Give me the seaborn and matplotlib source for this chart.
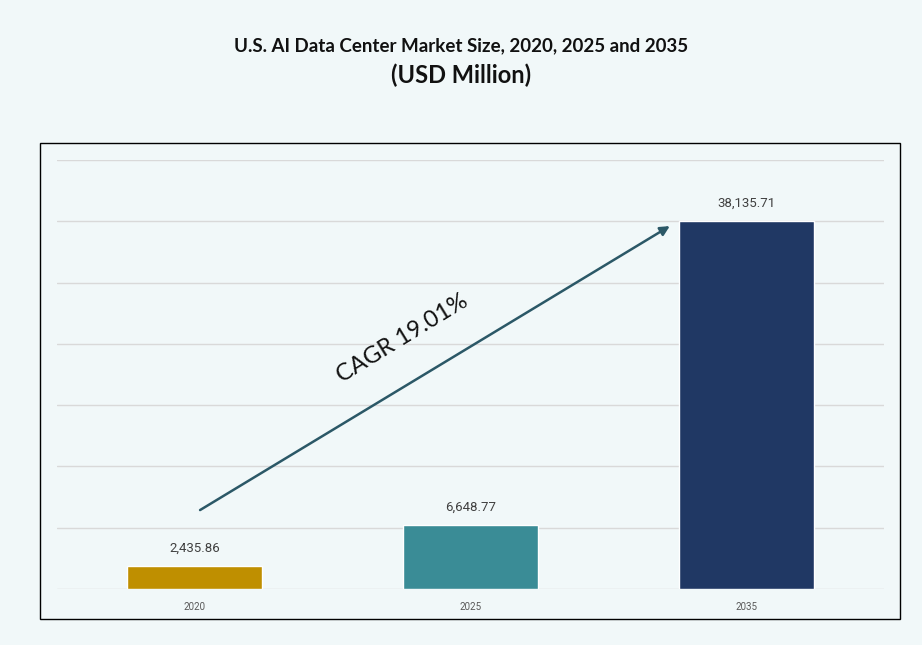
import matplotlib
matplotlib.use("Agg")
import matplotlib.pyplot as plt
import seaborn as sns
import pandas as pd
from matplotlib.patches import Rectangle

years = ["2020", "2025", "2035"]
values = [2435.86, 6648.77, 38135.71]
labels = ["2,435.86", "6,648.77", "38,135.71"]
colors = ["#BF8F00", "#3A8C96", "#203864"]
title_line1 = "U.S. AI Data Center Market Size, 2020, 2025 and 2035"
title_line2 = "(USD Million)"
cagr_text = "CAGR 19.01%"

BG = "#F1F8F9"
sns.set_theme(style="white")
plt.rcParams["font.family"] = ["Lato", "DejaVu Sans"]

W, H = 922, 645
fig = plt.figure(figsize=(W / 100, H / 100), dpi=100, facecolor=BG)

# outer frame
fig.patches.append(Rectangle((40 / W, 1 - 619 / H), 860 / W, 476 / H,
                             transform=fig.transFigure, fill=False,
                             edgecolor="black", linewidth=1.0, zorder=0))

ax = fig.add_axes([57 / W, 1 - 589 / H, 827 / W, 429 / H])
ax.set_facecolor(BG)

df = pd.DataFrame({"year": years, "value": values})
sns.barplot(data=df, x="year", y="value", hue="year", palette=colors,
            width=0.49, legend=False, ax=ax, saturation=1)

step = 6356
ax.set_ylim(0, 7 * step)
ax.set_yticks([i * step for i in range(8)])
ax.set_yticklabels([])
ax.set_xlim(-0.5, 2.5)
ax.grid(axis="y", color="#D9D9D9", linewidth=1)
ax.set_axisbelow(True)
for s in ax.spines.values():
    s.set_visible(False)
ax.tick_params(axis="y", length=0)
ax.tick_params(axis="x", length=0, pad=9, labelsize=7, labelcolor="#595959")
for t in ax.get_xticklabels():
    t.set_family(["Roboto", "DejaVu Sans"])
ax.set_xlabel("")
ax.set_ylabel("")

for i, (v, lab) in enumerate(zip(values, labels)):
    ax.annotate(lab, (i, v), xytext=(0, 8), textcoords="offset points",
                ha="center", va="bottom", fontsize=9.5, color="#404040",
                family=["Roboto", "DejaVu Sans"])

# CAGR arrow
ax.annotate("", xy=(0.741, 0.846), xytext=(0.173, 0.184),
            xycoords="axes fraction", textcoords="axes fraction",
            arrowprops=dict(arrowstyle="-|>", color="#2B5867", lw=1.8,
                            mutation_scale=14, shrinkA=0, shrinkB=0))
ax.text(0.418, 0.585, cagr_text, transform=ax.transAxes, rotation=31.5,
        rotation_mode="anchor", ha="center", va="center", fontsize=17,
        color="#111111")

fig.text(0.5, 1 - 46 / H, title_line1, ha="center", va="center",
         fontsize=13.5, fontweight="bold", color="#111111")
fig.text(0.5, 1 - 75 / H, title_line2, ha="center", va="center",
         fontsize=17, fontweight="bold", color="#111111")

fig.savefig("out.png", dpi=100, facecolor=BG)
